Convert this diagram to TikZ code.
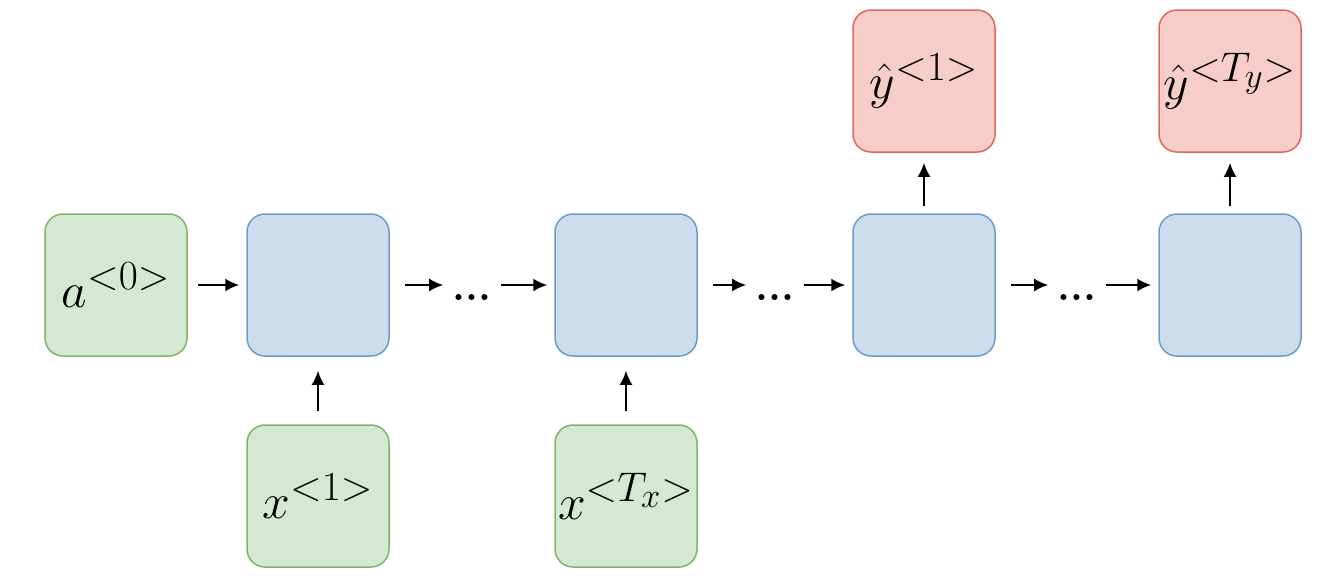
\documentclass[tikz,border=0pt]{standalone}
\usetikzlibrary{arrows.meta,calc}

\definecolor{inFill}{HTML}{D5E8D4}
\definecolor{inLine}{HTML}{82B366}
\definecolor{cellFill}{HTML}{CDDDEC}
\definecolor{cellLine}{HTML}{6C9BD0}
\definecolor{outFill}{HTML}{F6CDC8}
\definecolor{outLine}{HTML}{E0675A}

\begin{document}
\begin{tikzpicture}[x=0.5pt, y=-0.5pt, thick, font=\Huge,
    box/.style={draw, rounded corners=9pt, minimum size=71pt, inner sep=0pt, line width=0.75pt},
    inbox/.style={box, draw=inLine, fill=inFill},
    cell/.style={box, draw=cellLine, fill=cellFill},
    outbox/.style={box, draw=outLine, fill=outFill},
    dotsnode/.style={inner sep=0pt, minimum width=28pt, minimum height=0pt, font=\huge\bfseries},
    arr/.style={-{Latex[length=7pt,width=6.5pt]}, line width=1.1pt}]
    \useasboundingbox (0,0) rectangle (1332,580);

    \node (a0) [inbox] at (116,285) {$a^{<0>}$};
    \node (c1) [cell] at (318,285) {};
    \node (c2) [cell] at (626,285) {};
    \node (c3) [cell] at (924,285) {};
    \node (c4) [cell] at (1230,285) {};
    \node (x1) [inbox, below of=c1, node distance=105.5pt] {$x^{<1>}$};
    \node (xT) [inbox, below of=c2, node distance=105.5pt] {$x^{<T_x>}$};
    \node (y1) [outbox, above of=c3, node distance=102pt] {$\hat{y}^{<1>}$};
    \node (yT) [outbox, above of=c4, node distance=102pt] {$\hat{y}^{<T_y>}$};

    \node (d1) [dotsnode] at ($(c1)!0.5!(c2)$) {\smash{\raisebox{-7.8pt}{...}}};
    \node (d2) [dotsnode] at ($(c2)!0.5!(c3)$) {\smash{\raisebox{-7.8pt}{...}}};
    \node (d3) [dotsnode] at ($(c3)!0.5!(c4)$) {\smash{\raisebox{-7.8pt}{...}}};

    \draw[arr, shorten <=5pt, shorten >=3.5pt] (a0) -- (c1);
    \draw[arr, shorten <=7.5pt] (c1) -- (d1);
    \draw[arr, shorten >=3.5pt] (d1) -- (c2);
    \draw[arr, shorten <=7.5pt] (c2) -- (d2);
    \draw[arr, shorten >=3.5pt] (d2) -- (c3);
    \draw[arr, shorten <=7.5pt] (c3) -- (d3);
    \draw[arr, shorten >=3.5pt] (d3) -- (c4);

    \draw[arr, shorten <=6.5pt, shorten >=7pt] (x1) -- (c1);
    \draw[arr, shorten <=6.5pt, shorten >=7pt] (xT) -- (c2);
    \draw[arr, shorten <=3.5pt, shorten >=5pt] (c3) -- (y1);
    \draw[arr, shorten <=3.5pt, shorten >=5pt] (c4) -- (yT);
\end{tikzpicture}
\end{document}
